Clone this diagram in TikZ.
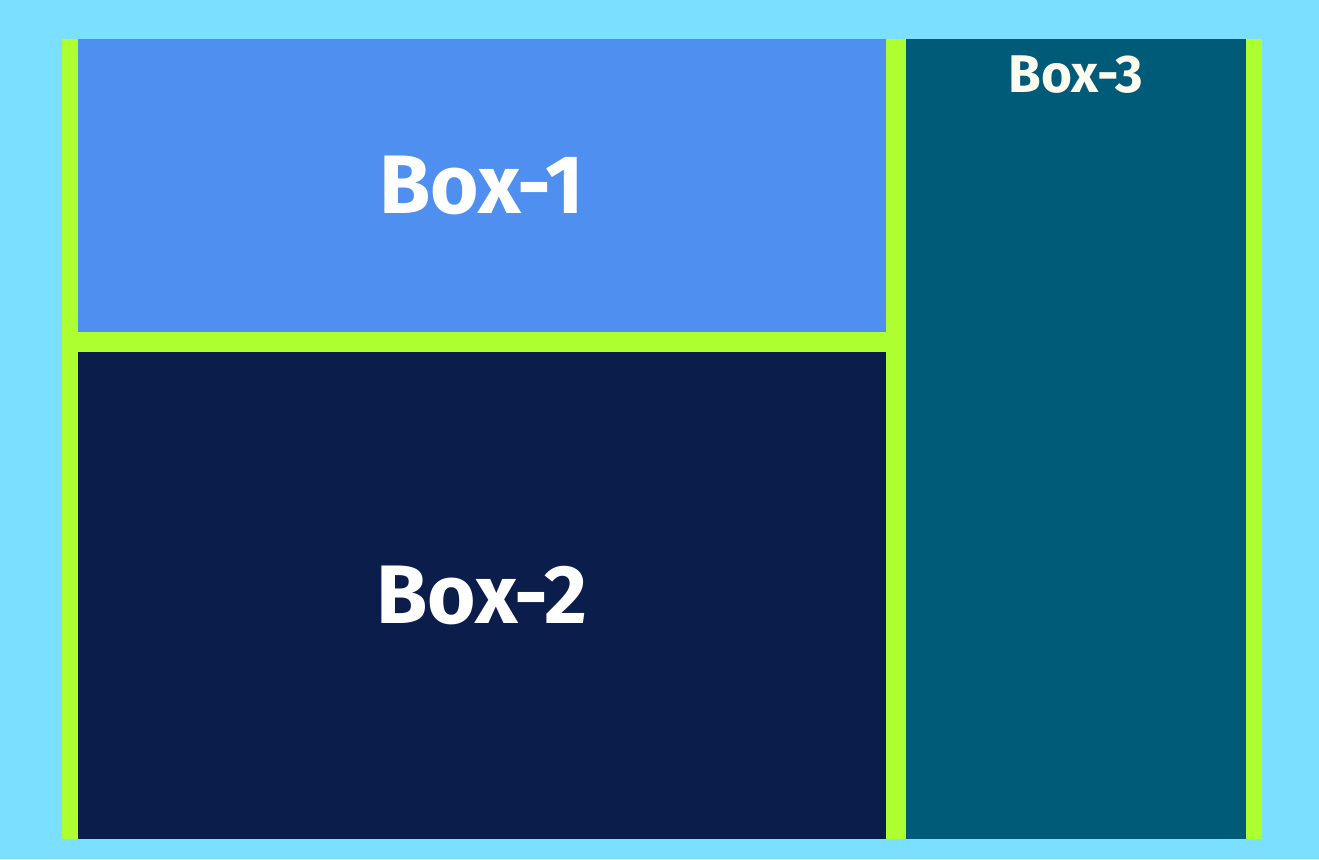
\documentclass[tikz,border=0pt]{standalone}
\usepackage{fontspec}
\setmainfont{Fira Sans}
\usetikzlibrary{positioning}
\definecolor{skybg}{HTML}{7BDFFF}
\definecolor{framegreen}{HTML}{ADFF2F}
\definecolor{boxblue}{HTML}{4F8FEF}
\definecolor{boxnavy}{HTML}{0B1D4B}
\definecolor{boxteal}{HTML}{005B78}
\definecolor{creamtext}{HTML}{FFFCF0}
\tikzset{
  panel/.style={rectangle, inner sep=0pt, outer sep=0pt, draw=none, text=white, font=\bfseries\fontsize{83}{83}\selectfont},
  smalltitle/.style={inner sep=0pt, text=creamtext, font=\bfseries\fontsize{53}{53}\selectfont},
}
\begin{document}
\begin{tikzpicture}[x=1pt, y=-1pt]

  % ---- Canvas and frame ----
  \useasboundingbox [fill=skybg] (0,0) rectangle (1319,859);
  \node (frame) [panel, fill=framegreen, minimum width=1200pt, minimum height=800pt] at (662,439) {};

  % ---- Left column ----
  \node (box1) [panel, fill=boxblue, minimum width=808pt, minimum height=293pt] at (482,185.5) {Box-1};
  \node (box2) [panel, fill=boxnavy, minimum width=808pt, minimum height=487pt] at (482,595.5) {Box-2};

  % ---- Right column ----
  \node (box3) [panel, fill=boxteal, minimum width=340pt, minimum height=800pt] at (1076,439) {};
  \node (box3title) [smalltitle, below=17pt of box3.north] {Box-3};

\end{tikzpicture}
\end{document}
